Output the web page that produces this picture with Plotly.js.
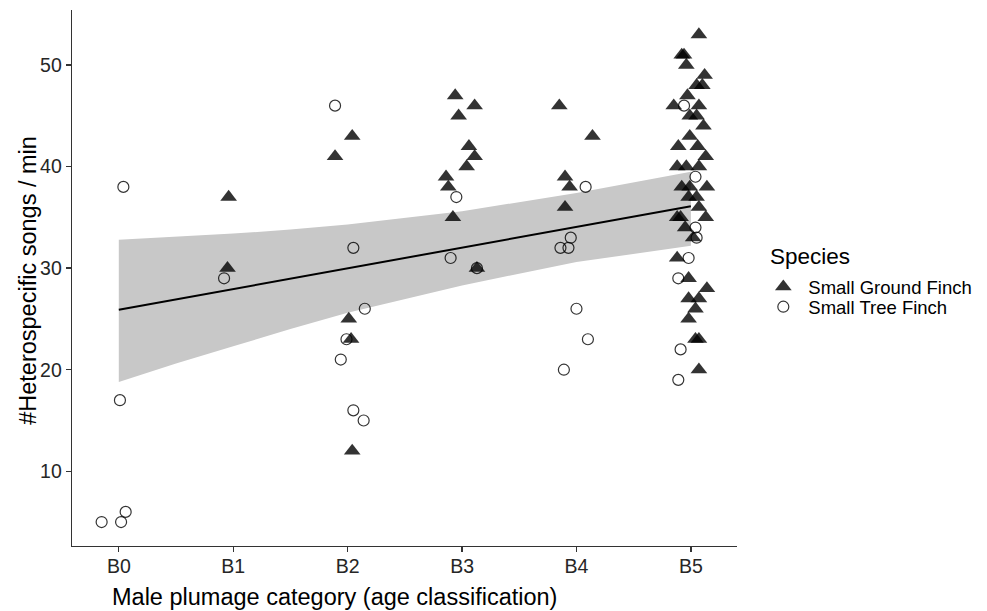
<!DOCTYPE html>
<html><head><meta charset="utf-8">
<script src="https://cdn.plot.ly/plotly-3.0.1.min.js"></script>
<style>html,body{margin:0;padding:0;background:#fff;} #chart{width:987px;height:611px;}</style>
</head><body><div id="chart"></div>
<script>
// Categories (x axis)
const categories = ['B0','B1','B2','B3','B4','B5'];
const categoryPos = [0,1,2,3,4,5];
const yTicks = [10,20,30,40,50];

// Small Ground Finch (jittered x positions, songs/min)
const groundX = [0.96,0.95,
  2.04,1.89,2.01,2.03,2.04,
  2.94,3.11,2.97,3.06,3.11,3.04,2.86,2.88,2.92,3.13,
  3.85,4.14,3.90,3.94,3.90,
  5.07,4.92,4.94,4.96,5.12,5.05,5.10,4.97,4.85,5.07,4.99,5.05,5.11,4.99,4.89,5.06,5.13,4.88,4.96,5.07,
  4.92,4.99,5.14,4.98,5.05,5.07,5.13,4.88,4.91,4.95,5.02,4.88,4.98,5.14,4.98,5.07,5.04,4.98,5.04,5.07,5.07];
const groundY = [37,30,
  43,41,25,23,12,
  47,46,45,42,41,40,39,38,35,30,
  46,43,39,38,36,
  53,51,51,50,49,48,48,47,46,46,45,45,44,43,42,42,41,40,40,40,
  38,38,38,37,37,36,35,35,35,34,33,31,29,28,27,27,26,25,23,23,20];

// Small Tree Finch
const treeX = [0.04,0.01,-0.15,0.02,0.06,
  0.92,
  1.89,2.05,2.15,1.99,1.94,2.05,2.14,
  2.95,2.90,3.13,
  4.08,3.95,3.86,3.93,4.00,4.10,3.89,
  4.94,5.04,5.04,5.05,4.98,4.89,4.91,4.89];
const treeY = [38,17,5,5,6,
  29,
  46,32,26,23,21,16,15,
  37,31,30,
  38,33,32,32,26,23,20,
  46,39,34,33,31,29,22,19];

// Linear fit and its confidence band
const fitX = [0,5];
const fitY = [25.9,36.1];
const bandX = [0,0.5,1,1.5,2,3,4,5];
const bandLower = [18.8,20.6,22.3,24.0,25.6,28.3,30.6,32.2];
const bandUpper = [32.8,33.1,33.4,33.8,34.3,35.6,37.4,39.5];

const polyX = bandX.concat(bandX.slice().reverse());
const polyY = bandUpper.concat(bandLower.slice().reverse());

const FONT = 'Liberation Sans, Arial, sans-serif';
const plotL = 72.3, plotR = 736.7, plotT = 10, plotB = 545.7;
const W = 987, H = 611;
const px2x = p => (p - plotL) / (plotR - plotL);
const px2y = p => (plotB - p) / (plotB - plotT);

const traces = [
  {x: polyX, y: polyY, type:'scatter', mode:'lines', fill:'toself', fillcolor:'#c8c8c8',
   line:{width:0, color:'rgba(0,0,0,0)'}, hoverinfo:'skip', showlegend:false},
  {x: fitX, y: fitY, type:'scatter', mode:'lines', line:{color:'#000', width:2}, showlegend:false},
  {x: groundX, y: groundY, type:'scatter', mode:'markers', name:'Small Ground Finch', legend:'legend',
   marker:{symbol:'triangle-up', size:14.5, color:'rgba(0,0,0,0.8)', line:{width:0}}},
  {x: treeX, y: treeY, type:'scatter', mode:'markers', name:'Small Tree Finch', legend:'legend2',
   marker:{symbol:'circle-open', size:11, color:'rgba(0,0,0,0.8)', line:{width:1.2}}}
];

const axisCommon = {showgrid:false, zeroline:false, showline:true, linecolor:'#333', linewidth:1.3,
  ticks:'outside', ticklen:5, tickwidth:1.3, tickcolor:'#333',
  tickfont:{family:FONT, size:19.5, color:'#262626'}};

const legendCommon = {xanchor:'left', yanchor:'middle', bgcolor:'rgba(0,0,0,0)',
  font:{family:FONT, size:18.5, color:'#000'}, itemwidth:40};

const layout = {
  width:W, height:H,
  margin:{l:plotL, r:W-plotR, t:plotT, b:H-plotB, pad:0, autoexpand:false},
  paper_bgcolor:'#fff', plot_bgcolor:'#fff',
  font:{family:FONT, color:'#000'},
  xaxis: Object.assign({}, axisCommon, {range:[-0.409,5.403], tickmode:'array', tickvals:categoryPos, ticktext:categories, ticklabelstandoff:-3}),
  yaxis: Object.assign({}, axisCommon, {range:[2.64,55.42], tickmode:'array', tickvals:yTicks}),
  legend: Object.assign({}, legendCommon, {x:px2x(758), y:px2y(287)}),
  legend2: Object.assign({}, legendCommon, {x:px2x(758), y:px2y(307)}),
  annotations:[
    {text:'Species', xref:'paper', yref:'paper', x:px2x(768), y:px2y(256),
     xanchor:'left', yanchor:'middle', showarrow:false,
     font:{family:FONT, size:22.5, color:'#000'}},
    {text:'Male plumage category (age classification)', xref:'paper', yref:'paper',
     x:px2x(334.5), y:px2y(597), xanchor:'center', yanchor:'middle', showarrow:false,
     font:{family:FONT, size:23.5, color:'#000'}},
    {text:'#Heterospecific songs / min', xref:'paper', yref:'paper', textangle:-90,
     x:px2x(28), y:px2y(280), xanchor:'center', yanchor:'middle', showarrow:false,
     font:{family:FONT, size:23.5, color:'#000'}}
  ]
};

Plotly.newPlot('chart', traces, layout, {displayModeBar:false, staticPlot:true});
</script>
</body></html>
